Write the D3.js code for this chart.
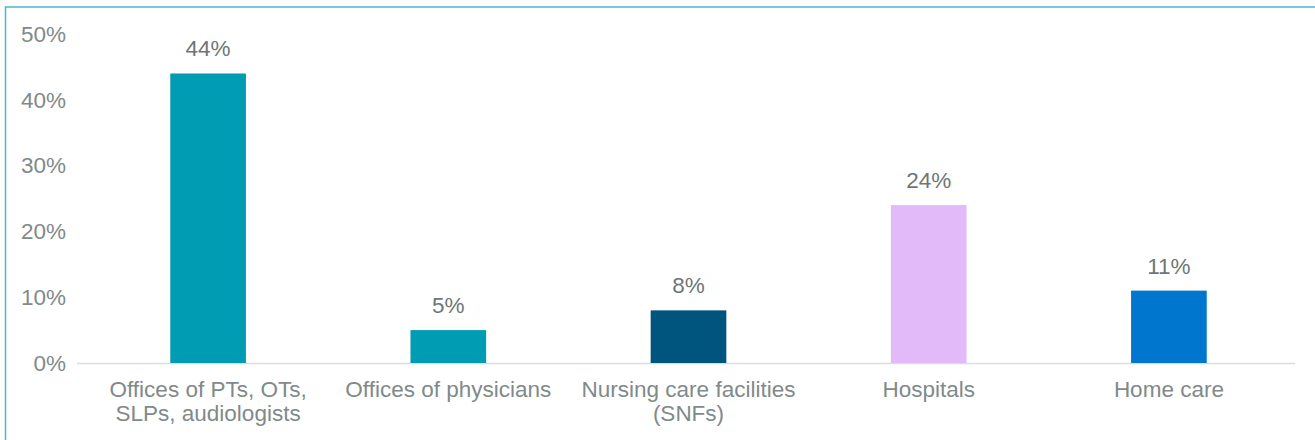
<!DOCTYPE html>
<html>
<head>
<meta charset="utf-8">
<script src="https://cdn.jsdelivr.net/npm/d3@7"></script>
<style>
  html, body { margin: 0; padding: 0; background: #fff; }
  svg { display: block; font-family: "Liberation Sans", Arial, sans-serif; }
</style>
</head>
<body>
<svg id="chart" width="1315" height="440"></svg>
<script>
const categories = [
  ["Offices of PTs, OTs,", "SLPs, audiologists"],
  ["Offices of physicians"],
  ["Nursing care facilities", "(SNFs)"],
  ["Hospitals"],
  ["Home care"]
];
const values = [0.44, 0.05, 0.08, 0.24, 0.11];
const barColors = ["#009CB4", "#009CB4", "#00557F", "#E2BAF9", "#0076CE"];
const yTicks = [0, 0.1, 0.2, 0.3, 0.4, 0.5];

const svg = d3.select("#chart");
const W = 1315, H = 440;
const margin = { left: 88, right: 26 };
const textColor = "#7F8A8A";
const fontSize = 22.5;

// frame around the chart area
svg.append("rect")
  .attr("x", 5.5).attr("y", 7)
  .attr("width", W + 20).attr("height", H + 20)
  .attr("fill", "none")
  .attr("stroke", "#4DB6CD")
  .attr("stroke-width", 1.5);

const idx = d3.range(values.length);
const x = d3.scaleBand()
  .domain(idx)
  .range([margin.left, W - margin.right])
  .paddingInner(0.685)
  .paddingOuter(0.3425);

const y = d3.scaleLinear()
  .domain([0, 0.5])
  .range([363, 34]);

// y axis labels
const yAxis = d3.axisLeft(y)
  .tickValues(yTicks)
  .tickFormat(d3.format(".0%"))
  .tickSize(0)
  .tickPadding(0);

const gy = svg.append("g")
  .attr("transform", "translate(66,0)")
  .call(yAxis);
gy.select(".domain").remove();
gy.selectAll("text")
  .attr("fill", textColor)
  .attr("font-size", fontSize)
  .attr("font-family", "Liberation Sans, Arial, sans-serif");

// baseline
svg.append("line")
  .attr("x1", 77).attr("x2", 1295)
  .attr("y1", y(0) + 0.5).attr("y2", y(0) + 0.5)
  .attr("stroke", "#D9DDDD")
  .attr("stroke-width", 1.5);

// bars
svg.append("g").selectAll("rect")
  .data(values)
  .join("rect")
  .attr("x", (d, i) => x(i))
  .attr("width", x.bandwidth())
  .attr("y", d => y(d))
  .attr("height", d => y(0) - y(d))
  .attr("fill", (d, i) => barColors[i]);

// value labels
svg.append("g").selectAll("text")
  .data(values)
  .join("text")
  .attr("x", (d, i) => x(i) + x.bandwidth() / 2)
  .attr("y", d => y(d) - 17)
  .attr("text-anchor", "middle")
  .attr("fill", "#6E7676")
  .attr("font-size", fontSize)
  .text(d => d3.format(".0%")(d));

// category labels
const cat = svg.append("g").selectAll("text")
  .data(categories)
  .join("text")
  .attr("x", (d, i) => x(i) + x.bandwidth() / 2)
  .attr("y", 397)
  .attr("text-anchor", "middle")
  .attr("fill", textColor)
  .attr("font-size", fontSize);
cat.selectAll("tspan")
  .data(d => d)
  .join("tspan")
  .attr("x", function () { return d3.select(this.parentNode).attr("x"); })
  .attr("dy", (d, j) => j === 0 ? 0 : 24)
  .text(d => d);
</script>
</body>
</html>
